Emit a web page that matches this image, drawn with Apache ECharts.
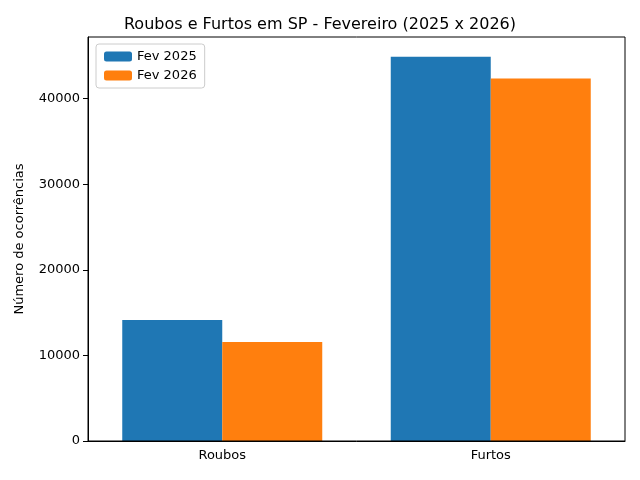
<!DOCTYPE html>
<html>
<head>
<meta charset="utf-8">
<script src="https://cdn.jsdelivr.net/npm/echarts@6/dist/echarts.min.js"></script>
<style>html,body{margin:0;background:#fff}#chart{width:640px;height:480px}</style>
</head>
<body>
<div id="chart"></div>
<script>
const categories = ['Roubos', 'Furtos'];
const fev2025 = [14150, 44900];
const fev2026 = [11580, 42340];
const yTicks = [0, 10000, 20000, 30000, 40000];

let myChart = echarts.init(document.getElementById('chart'));
const font = 'DejaVu Sans';
myChart.setOption({
	animation: false,
	textStyle: { fontFamily: font },
	title: {
		text: 'Roubos e Furtos em SP - Fevereiro (2025 x 2026)',
		left: 'center', top: 12,
		textStyle: { fontFamily: font, fontSize: 16, fontWeight: 'normal', color: '#000' }
	},
	legend: {
		left: 96, top: 44, orient: 'vertical', itemGap: 6,
		itemWidth: 28, itemHeight: 10, padding: [6, 8],
		borderColor: '#ccc', borderWidth: 1, borderRadius: 3,
		textStyle: { fontFamily: font, fontSize: 13, color: '#000' },
		data: ['Fev 2025', 'Fev 2026']
	},
	grid: { left: 88, right: 15, top: 37, bottom: 39 },
	xAxis: {
		type: 'category', data: categories,
		axisLine: { lineStyle: { color: '#000' } },
		axisTick: { alignWithLabel: true, lineStyle: { color: '#000' } },
		axisLabel: { color: '#000', fontSize: 13, margin: 8 }
	},
	yAxis: {
		type: 'value', min: 0, max: 47200, interval: 10000,
		name: 'Número de ocorrências', nameLocation: 'middle', nameGap: 62,
		nameTextStyle: { color: '#000', fontSize: 13 },
		axisLine: { show: true, lineStyle: { color: '#000' } },
		axisTick: { show: true, lineStyle: { color: '#000' } },
		splitLine: { show: false },
		axisLabel: { color: '#000', fontSize: 13, showMaxLabel: false,
			formatter: v => yTicks.includes(v) ? String(v) : '' }
	},
	graphic: [{
		type: 'rect', shape: { x: 88, y: 37, width: 537, height: 404 },
		style: { fill: 'none', stroke: '#000', lineWidth: 1 }, z: 100, silent: true
	}],
	series: [
		{ name: 'Fev 2025', type: 'bar', data: fev2025, barWidth: 100, barGap: '0%', itemStyle: { color: '#1f77b4' } },
		{ name: 'Fev 2026', type: 'bar', data: fev2026, barWidth: 100, itemStyle: { color: '#ff7f0e' } }
	]
});
</script>
</body>
</html>
